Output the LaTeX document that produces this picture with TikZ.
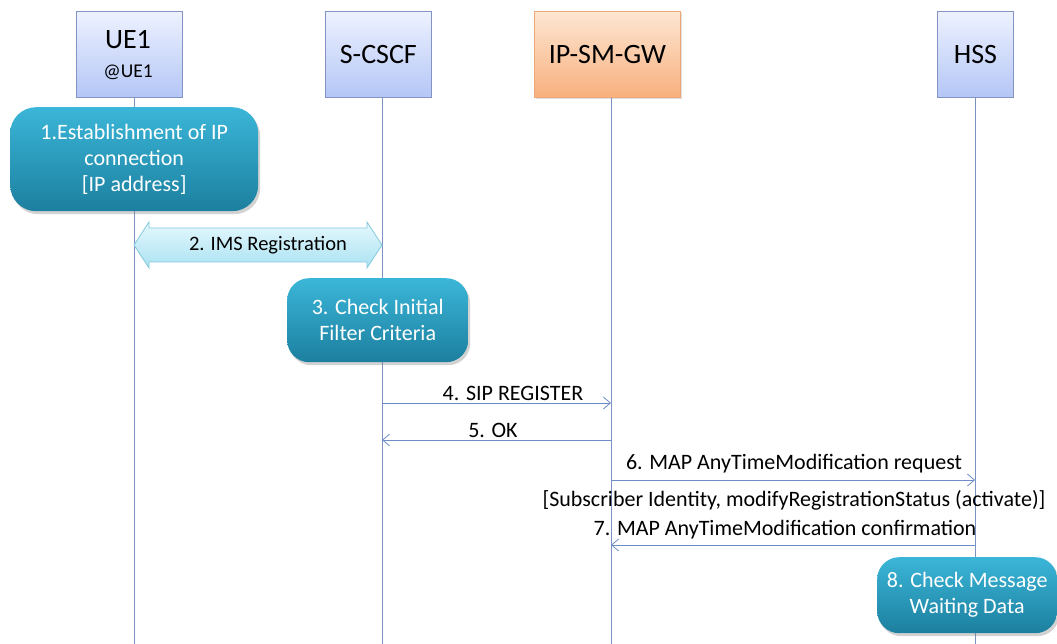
\documentclass[tikz,border=0pt]{standalone}
\usepackage{fontspec}
\setmainfont{Carlito}
\usetikzlibrary{shadows,arrows.meta,calc}
\definecolor{lbord}{HTML}{8394C4}
\definecolor{ltop}{HTML}{EEF2FF}
\definecolor{lbot}{HTML}{B4C6F6}
\definecolor{otop}{HTML}{FDE6D2}
\definecolor{obot}{HTML}{F8B07E}
\definecolor{obord}{HTML}{EDA878}
\definecolor{ptop}{HTML}{3BB6D8}
\definecolor{pbot}{HTML}{1C7F9F}
\definecolor{lline}{HTML}{7A93C2}
\definecolor{msgc}{HTML}{6D8DC9}
\definecolor{atop}{HTML}{E6F8FD}
\definecolor{abot}{HTML}{A9E2F2}
\definecolor{abord}{HTML}{84C9DD}
\tikzset{
  actor/.style={draw=lbord, line width=0.8pt, top color=ltop, bottom color=lbot, anchor=north west, inner sep=0pt, align=center},
  gwbox/.style={draw=obord, line width=0.8pt, top color=otop, bottom color=obot, anchor=north west, inner sep=0pt, align=center, drop shadow={opacity=0.25, shadow xshift=2pt, shadow yshift=-2pt}},
  proc/.style={rounded corners=22pt, top color=ptop, bottom color=pbot, text=white, anchor=north west, inner sep=0pt, align=center, font=\fontsize{22}{26}\selectfont, drop shadow={opacity=0.35, shadow xshift=2pt, shadow yshift=-3pt}},
  lifeline/.style={draw=lline, line width=0.8pt},
  msg/.style={draw=msgc, line width=0.8pt, -{Straight Barb[length=7pt,width=12pt,line width=0.8pt]}},
  mlabel/.style={font=\fontsize{22}{26}\selectfont, inner sep=0pt}
}
\begin{document}
\begin{tikzpicture}[x=1pt,y=-1pt]
\useasboundingbox[fill=white] (0,0) rectangle (1057,644);
% lifeline boxes
\node[actor, minimum width=106pt, minimum height=86pt] (ue) at (76,11) {};
\node[font=\fontsize{28}{30}\selectfont] (uet) at (128,40) {UE1};
\node[font=\fontsize{19.5}{22}\selectfont] (uea) at (128,72) {@UE1};
\node[actor, minimum width=106pt, minimum height=86pt, font=\fontsize{28}{30}\selectfont] (scscf) at (325,11) {S-CSCF};
\node[gwbox, minimum width=146pt, minimum height=86pt, font=\fontsize{28}{30}\selectfont] (gw) at (534,11) {IP-SM-GW};
\node[actor, minimum width=76pt, minimum height=86pt, font=\fontsize{28}{30}\selectfont] (hss) at (937,11) {HSS};
% lifeline ends
\coordinate (ueB) at (134,644);
\coordinate (scB) at (382,644);
\coordinate (gwB) at (611,644);
\coordinate (hsB) at (975,644);
\draw[lifeline] (ue.south -| ueB) -- (ueB);
\draw[lifeline] (scscf.south -| scB) -- (scB);
\draw[lifeline] (gw.south -| gwB) -- (gwB);
\draw[lifeline] (hss.south -| hsB) -- (hsB);
% 1
\node[proc, minimum width=248pt, minimum height=104pt, rounded corners=26pt] (p1) at (10,107) {1.Establishment of IP\\connection\\{[IP address]}};
% 2 block arrow
\coordinate (a2l) at (134,245);
\coordinate (a2r) at (382,245);
\shade[top color=atop, bottom color=abot, draw=abord, line width=0.8pt]
  (a2l) -- ++(15,-23) -- ++(0,6) -- ($(a2r)+(-15,-17)$) -- ++(0,-6) -- (a2r) -- ++(-15,23) -- ++(0,-6) -- ($(a2l)+(15,17)$) -- ++(0,6) -- cycle;
\node[mlabel, font=\fontsize{20.5}{24}\selectfont] (l2) at ($(a2l)!0.54!(a2r)$) {2. IMS Registration};
% 3
\node[proc, minimum width=181pt, minimum height=84pt] (p3) at (287,278) {3. Check Initial\\Filter Criteria};
% 4
\coordinate (m4a) at (382,403);
\coordinate (m4b) at (611,403);
\draw[msg] (m4a) -- (m4b);
\node[mlabel, anchor=south] (l4) at (513,401) {4. SIP REGISTER};
% 5
\coordinate (m5a) at (611,440);
\coordinate (m5b) at (382,440);
\draw[msg] (m5a) -- (m5b);
\node[mlabel, anchor=south] (l5) at (493,438) {5. OK};
% 6
\coordinate (m6a) at (611,480);
\coordinate (m6b) at (975,480);
\draw[msg] (m6a) -- (m6b);
\node[mlabel, anchor=south] (l6) at (794,473) {6. MAP AnyTimeModification request};
\node[mlabel] (l6b) at (794,500) {[Subscriber Identity, modifyRegistrationStatus (activate)]};
% 7
\coordinate (m7a) at (975,545);
\coordinate (m7b) at (611,545);
\draw[msg] (m7a) -- (m7b);
\node[mlabel, anchor=south] (l7) at (785,539) {7. MAP AnyTimeModification confirmation};
% 8
\node[proc, minimum width=180pt, minimum height=76pt] (p8) at (877,557) {8. Check Message\\Waiting Data};
\end{tikzpicture}
\end{document}
